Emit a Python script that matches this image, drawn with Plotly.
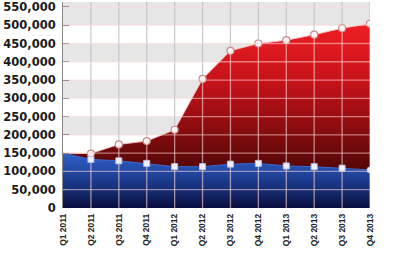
import plotly.graph_objects as go

quarters = ["Q1 2011", "Q2 2011", "Q3 2011", "Q4 2011", "Q1 2012", "Q2 2012",
            "Q3 2012", "Q4 2012", "Q1 2013", "Q2 2013", "Q3 2013", "Q4 2013"]
total_values = [150000, 149000, 174000, 183000, 214000, 353000,
                430000, 450000, 459000, 474000, 492000, 504000]
blue_values = [150000, 133000, 129000, 122000, 113000, 113000,
               120000, 122000, 115000, 113000, 109000, 104000]
y_ticks = list(range(0, 550001, 50000))
y_ticklabels = [f"{v:,}" for v in y_ticks]
gray_bands = [(500000, 550000), (400000, 450000), (300000, 350000),
              (200000, 250000), (100000, 150000), (0, 50000), (550000, 600000)]

n = len(quarters)
idx = list(range(n))

fig = go.Figure()

fig.add_trace(go.Scatter(
    x=idx, y=total_values, mode="lines", fill="tozeroy",
    line=dict(color="rgba(255,190,190,0.9)", width=1),
    fillgradient=dict(type="vertical", start=90000, stop=510000,
                      colorscale=[[0, "#4a0606"], [0.3, "#880c0e"],
                                  [0.6, "#c41218"], [1, "#f01e24"]]),
    hoverinfo="skip", showlegend=False))

fig.add_trace(go.Scatter(
    x=idx, y=blue_values, mode="lines", fill="tozeroy",
    line=dict(color="#3a6ad0", width=1),
    fillgradient=dict(type="vertical", start=0, stop=150000,
                      colorscale=[[0, "#090b38"], [0.4, "#17307a"],
                                  [0.8, "#2650b0"], [1, "#2f60c4"]]),
    hoverinfo="skip", showlegend=False))

shapes = []
for lo, hi in gray_bands:
    shapes.append(dict(type="rect", xref="paper", yref="y", x0=0, x1=1,
                       y0=lo, y1=hi, fillcolor="#e6e6e6", line_width=0,
                       layer="below"))
for v in y_ticks[1:]:
    shapes.append(dict(type="line", xref="paper", yref="y", x0=0, x1=1,
                       y0=v, y1=v, line=dict(color="rgba(255,215,215,0.55)", width=1.3),
                       layer="above"))
for i in idx[1:]:
    shapes.append(dict(type="line", xref="x", yref="paper", x0=i, x1=i,
                       y0=0, y1=1, line=dict(color="rgba(195,195,200,0.9)", width=1.2),
                       layer="below"))
    shapes.append(dict(type="line", xref="x", yref="y", x0=i, x1=i,
                       y0=0, y1=total_values[i],
                       line=dict(color="rgba(255,220,220,0.6)", width=1.3),
                       layer="above"))

fig.add_trace(go.Scatter(
    x=idx[1:], y=total_values[1:], mode="markers",
    marker=dict(symbol="circle", size=7, color="#fff4f4",
                line=dict(color="#c98a8a", width=1.2)),
    hoverinfo="skip", showlegend=False))

blue_symbols = ["square"] * (n - 2) + ["circle"]
fig.add_trace(go.Scatter(
    x=idx[1:], y=blue_values[1:], mode="markers",
    marker=dict(symbol=blue_symbols, size=6, color="#eef4ff",
                line=dict(color="#a9c0e8", width=1)),
    hoverinfo="skip", showlegend=False))

fig.update_layout(
    width=400, height=258,
    margin=dict(l=63, r=30, t=0, b=50),
    paper_bgcolor="white", plot_bgcolor="white",
    shapes=shapes,
    xaxis=dict(range=[0, n - 1], tickmode="array", tickvals=idx, ticktext=quarters,
               tickangle=-90, showgrid=False, zeroline=False, showline=False,
               ticks="", ticklabelstandoff=3,
               tickfont=dict(family="Liberation Sans", size=8.5, color="#222", weight="bold")),
    yaxis=dict(range=[0, 563500], tickmode="array", tickvals=y_ticks, ticktext=y_ticklabels,
               showgrid=False, zeroline=False, showline=True, linecolor="#888", linewidth=1,
               ticks="inside", ticklen=6, tickcolor="#555", ticklabelstandoff=4,
               ticklabeloverflow="allow",
               tickfont=dict(family="DejaVu Sans", size=11.5, color="#1a1a1a", weight="bold"),
               layer="above traces"),
)

fig.write_html("out.html")
